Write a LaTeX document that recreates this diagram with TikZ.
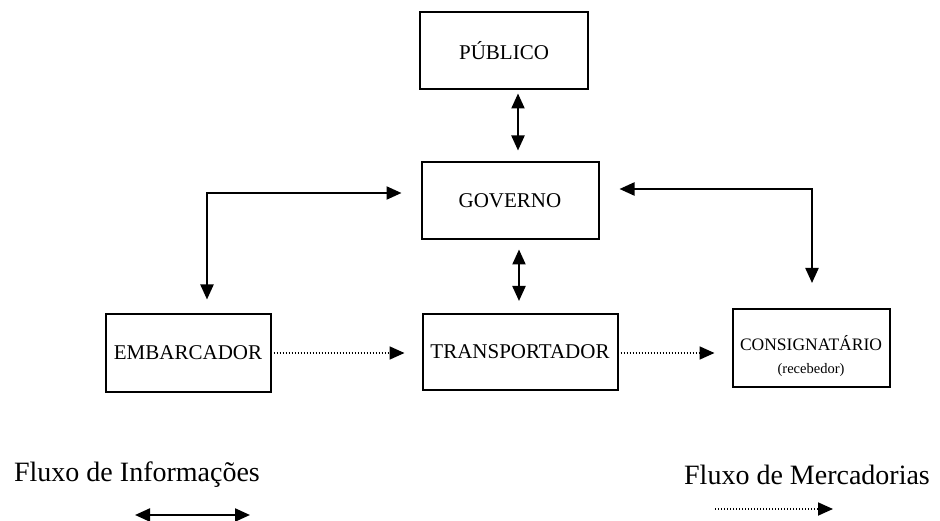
\documentclass[tikz,border=0pt]{standalone}
\usepackage{fontspec}
\setmainfont{Liberation Serif}
\usetikzlibrary{arrows.meta,calc}
\begin{document}
\begin{tikzpicture}[x=1pt,y=-1pt,
  box/.style={draw,line width=2pt,minimum width=#1,minimum height=77pt,inner sep=0pt,align=center,font=\fontsize{21}{23}\selectfont},
  tip/.tip={Triangle[length=15pt,width=13pt]},
  info/.style={line width=2.2pt,tip-tip},
  merc/.style={line width=1.8pt,dash pattern=on 1.4pt off 1.6pt,-tip},
  legend/.style={font=\fontsize{28}{30}\selectfont,inner sep=0pt}]
\useasboundingbox (0,0) rectangle (940,521);

% actors
\node[box=168pt] (pub) at (504,51) {PÚBLICO};
\node[box=177pt] (gov) at (510,201) {GOVERNO};
\node[box=165pt] (emb) at (188,353) {EMBARCADOR};
\node[box=195pt,minimum height=76pt] (tra) at (520,352) {\raisebox{-1pt}{TRANSPORTADOR}};
\node[box=157pt,minimum height=78pt] (con) at (811,348) {};
\node[align=center,inner sep=0pt,font=\fontsize{17.5}{23}\selectfont] (conlbl) at ($(con.center)+(0,8)$)
  {CONSIGNATÁRIO\\{\fontsize{14.5}{17}\selectfont (recebedor)}};

% information flows
\draw[info] ($(pub.south)+(14,3)$) -- ($(gov.north)+(8,-11)$);
\draw[info] ($(gov.south)+(9,9)$) -- ($(tra.north)+(-1,-12)$);
\draw[info] ($(gov.west)+(-19,-8)$) -| ($(emb.north)+(19,-14)$);
\draw[info] ($(gov.east)+(20,-12)$) -| ($(con.north)+(1,-25)$);

% goods flows
\draw[merc] ($(emb.east)+(2,0)$) -- ($(emb.east -| tra.west)+(-17,0)$);
\draw[merc] ($(tra.east)+(2,1)$) -- ($(con.west)+(-17,5)$);

% legend
\node[legend] (li) at (137,475) {Fluxo de Informações};
\node[legend] (lm) at (807,475) {Fluxo de Mercadorias};
\coordinate (ia) at (135,515);
\coordinate (ib) at (250,515);
\coordinate (ma) at (715,509);
\coordinate (mb) at (833,509);
\draw[info] (ia) -- (ib);
\draw[merc] (ma) -- (mb);
\end{tikzpicture}
\end{document}
